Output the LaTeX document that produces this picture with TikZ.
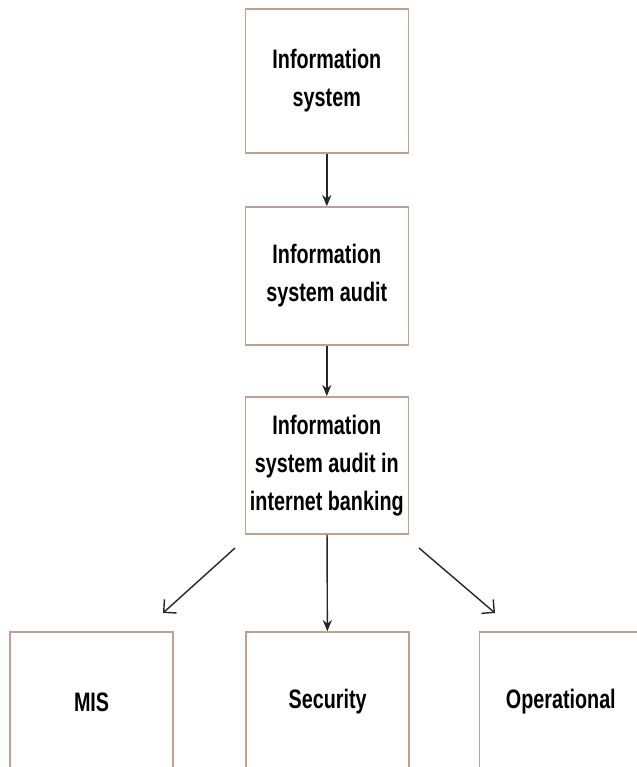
\documentclass[tikz,border=0pt]{standalone}
\usepackage{fontspec}
\setmainfont{Liberation Sans}[FakeStretch=0.74]
\usetikzlibrary{arrows.meta}
\definecolor{boxline}{RGB}{190,160,150}

\tikzset{
    stage/.style={draw=boxline, line width=1.1pt, minimum width=4.075cm, inner sep=0pt,
        align=center, font=\bfseries\fontsize{19}{27}\selectfont},
    flow/.style={-{Stealth[length=8pt,width=6.5pt]}, line width=1pt, black!85},
    branch/.style={-{Straight Barb[length=6.5pt,width=13pt]}, line width=1pt, black!85}
}

\begin{document}
\begin{tikzpicture}
        \useasboundingbox (0,0) rectangle (15.9,19.175);

        \node[stage, minimum height=3.6cm] (info) at (8.17,17.15) {Information\\system};
        \node[stage, minimum height=3.45cm] (audit) at (8.17,12.275) {Information\\system audit};
        \node[stage, minimum height=3.425cm] (banking) at (8.17,7.54) {Information\\system audit in\\internet banking};

        \node[stage, minimum height=3.5cm] (mis) at (2.29,1.625) {MIS};
        \node[stage, minimum height=3.5cm] (security) at (8.19,1.625) {Security};
        \node[stage, minimum height=3.5cm] (oper) at (14.02,1.625) {Operational};

        \coordinate (misfrom) at (5.875,5.475);
        \coordinate (misto) at (4.075,3.85);
        \coordinate (operfrom) at (10.475,5.475);
        \coordinate (operto) at (12.375,3.85);

        \draw[flow] (info) -- (audit);
        \draw[flow] (audit) -- (banking);
        \draw[flow] (banking) -- (security);
        \draw[branch] (misfrom) -- (misto);
        \draw[branch] (operfrom) -- (operto);
    \end{tikzpicture}
\end{document}
